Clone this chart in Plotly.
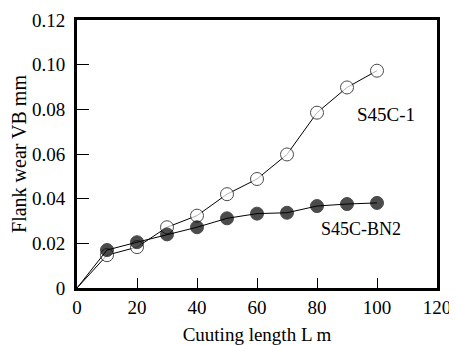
import plotly.graph_objects as go

x_len = [0, 10, 20, 30, 40, 50, 60, 70, 80, 90, 100]
s45c_1 = [0, 0.0147, 0.0183, 0.0272, 0.0324, 0.0420, 0.0488, 0.0598, 0.0785, 0.0898, 0.0973]
s45c_bn2 = [0, 0.0170, 0.0205, 0.0240, 0.0272, 0.0312, 0.0333, 0.0337, 0.0367, 0.0376, 0.0381]

x_ticks = [0, 20, 40, 60, 80, 100, 120]
y_ticks = [0, 0.02, 0.04, 0.06, 0.08, 0.10, 0.12]
y_tick_text = ["0", "0.02", "0.04", "0.06", "0.08", "0.10", "0.12"]

font_family = "Liberation Serif, Times New Roman, serif"
sizes = [0] + [13] * (len(x_len) - 1)

fig = go.Figure()
fig.add_trace(go.Scatter(
    x=x_len, y=s45c_1, mode="lines+markers", name="S45C-1",
    line=dict(color="black", width=1),
    marker=dict(size=sizes, color="white", line=dict(color="black", width=1)),
))
fig.add_trace(go.Scatter(
    x=x_len, y=s45c_bn2, mode="lines+markers", name="S45C-BN2",
    line=dict(color="black", width=1),
    marker=dict(size=sizes, color="black", line=dict(color="black", width=1)),
))

fig.add_annotation(x=103, y=0.0778, text="S45C-1", showarrow=False,
                   font=dict(family=font_family, size=19, color="black"))
fig.add_annotation(x=94.8, y=0.0262, text="S45C-BN2", showarrow=False,
                   font=dict(family=font_family, size=18, color="black"))

fig.update_layout(
    width=449, height=337,
    margin=dict(l=69, r=20, t=12, b=57),
    paper_bgcolor="white", plot_bgcolor="white",
    showlegend=False,
    font=dict(family=font_family, size=19, color="black"),
    xaxis=dict(
        range=[0, 120], tickvals=x_ticks, ticks="inside", ticklen=10, tickwidth=1,
        tickcolor="black", showline=True, linecolor="black", linewidth=3, mirror=True,
        showgrid=False, zeroline=False, automargin=False,
        title=dict(text="Cuuting length L m", standoff=14, font=dict(size=19)),
    ),
    yaxis=dict(
        range=[0, 0.12], tickvals=y_ticks, ticktext=y_tick_text, ticks="inside",
        ticklen=12, tickwidth=1, tickcolor="black", showline=True, linecolor="black",
        linewidth=3, mirror=True, showgrid=False, zeroline=False, automargin=False,
        ticklabelstandoff=5,
        title=dict(text="Flank wear VB mm", standoff=2, font=dict(size=20)),
    ),
)

fig.write_html("out.html")
